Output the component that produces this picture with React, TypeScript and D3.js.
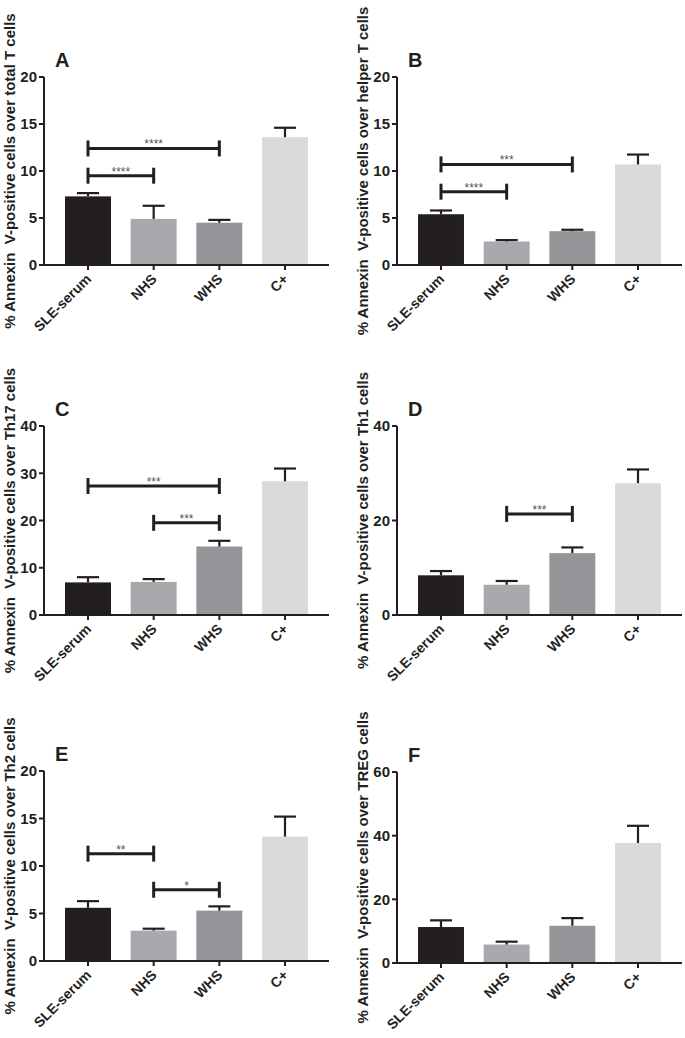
import React from 'react'
import * as d3 from 'd3'

// groups on x
const groups = ['SLE-serum', 'NHS', 'WHS', 'C+']
const barColors = ['#231f20', '#a7a9ac', '#939598', '#d9dadb']

// means and SEM per panel
const totalTMean = [7.3, 4.9, 4.5, 13.6]
const totalTSem = [0.35, 1.4, 0.3, 1.0]
const helperTMean = [5.4, 2.5, 3.6, 10.7]
const helperTSem = [0.4, 0.15, 0.15, 1.05]
const th17Mean = [6.9, 7.0, 14.5, 28.3]
const th17Sem = [1.1, 0.6, 1.2, 2.7]
const th1Mean = [8.4, 6.4, 13.1, 27.9]
const th1Sem = [0.9, 0.8, 1.2, 2.9]
const th2Mean = [5.6, 3.2, 5.3, 13.1]
const th2Sem = [0.7, 0.2, 0.45, 2.1]
const tregMean = [11.3, 5.8, 11.7, 37.7]
const tregSem = [2.1, 0.9, 2.4, 5.4]

// y ticks
const ticks20 = [0, 5, 10, 15, 20]
const ticks40 = [0, 10, 20, 30, 40]
const ticks40b = [0, 20, 40]
const ticks60 = [0, 20, 40, 60]

// significance brackets: [from, to, y value, stars]
type Sig = [number, number, number, string]
const sigA: Sig[] = [[0, 2, 12.4, '****'], [0, 1, 9.5, '****']]
const sigB: Sig[] = [[0, 2, 10.7, '***'], [0, 1, 7.8, '****']]
const sigC: Sig[] = [[0, 2, 27.3, '***'], [1, 2, 19.5, '***']]
const sigD: Sig[] = [[1, 2, 21.4, '***']]
const sigE: Sig[] = [[0, 1, 11.3, '**'], [1, 2, 7.5, '*']]
const sigF: Sig[] = []

const ink = '#231f20'
const font = 'Liberation Sans, Arial, sans-serif'

interface PanelProps {
  letter: string
  title: string
  mean: number[]
  sem: number[]
  ticks: number[]
  sig: Sig[]
  x0: number
  yTop: number
  yBottom: number
}

function Panel({ letter, title, mean, sem, ticks, sig, x0, yTop, yBottom }: PanelProps) {
  const width = 285
  const x = d3.scaleBand<string>()
    .domain(groups)
    .range([x0, x0 + width])
    .paddingInner(0.3)
    .paddingOuter(0.32)
  const y = d3.scaleLinear()
    .domain([0, ticks[ticks.length - 1]])
    .range([yBottom, yTop])
  const bw = x.bandwidth()
  const cx = (i: number) => (x(groups[i]) as number) + bw / 2

  return (
    <g>
      {/* panel letter */}
      <text x={x0 + 11} y={yTop - 10} fontFamily={font} fontWeight="bold" fontSize={20} fill={ink}>
        {letter}
      </text>
      {/* y title */}
      <text
        transform={`translate(${x0 - 29},${(yTop + yBottom) / 2}) rotate(-90)`}
        textAnchor="middle"
        fontFamily={font}
        fontWeight="bold"
        fontSize={15}
        fill={ink}
        style={{ whiteSpace: 'pre' }}
      >
        {title}
      </text>
      {/* bars */}
      {mean.map((m, i) => (
        <rect key={'b' + i} x={x(groups[i])} y={y(m)} width={bw} height={y(0) - y(m)} fill={barColors[i]} />
      ))}
      {/* error bars */}
      {mean.map((m, i) => (
        <g key={'e' + i} stroke={ink} strokeWidth={2.2}>
          <line x1={cx(i)} x2={cx(i)} y1={y(m)} y2={y(m + sem[i])} />
          <line x1={cx(i) - 11} x2={cx(i) + 11} y1={y(m + sem[i])} y2={y(m + sem[i])} />
        </g>
      ))}
      {/* axes */}
      <line x1={x0} x2={x0} y1={yTop} y2={yBottom} stroke={ink} strokeWidth={2} />
      <line x1={x0} x2={x0 + width} y1={yBottom} y2={yBottom} stroke={ink} strokeWidth={2} />
      {ticks.map(t => (
        <g key={'t' + t}>
          <line x1={x0 - 5} x2={x0} y1={y(t)} y2={y(t)} stroke={ink} strokeWidth={2} />
          <text x={x0 - 7} y={y(t)} dy="0.36em" textAnchor="end" fontFamily={font} fontWeight="bold" fontSize={15} fill={ink}>
            {t}
          </text>
        </g>
      ))}
      {groups.map((g, i) => (
        <g key={'x' + g}>
          <line x1={cx(i)} x2={cx(i)} y1={yBottom} y2={yBottom + 5} stroke={ink} strokeWidth={2} />
          <text
            transform={`translate(${cx(i) + 4},${yBottom + 15}) rotate(-45)`}
            textAnchor="end"
            fontFamily={font}
            fontWeight="bold"
            fontSize={14}
            fill={ink}
          >
            {g}
          </text>
        </g>
      ))}
      {/* significance */}
      {sig.map(([a, b, v, s], k) => (
        <g key={'s' + k}>
          <g stroke={ink} strokeWidth={3}>
            <line x1={cx(a)} x2={cx(b)} y1={y(v)} y2={y(v)} />
            <line x1={cx(a)} x2={cx(a)} y1={y(v) - 8} y2={y(v) + 8} />
            <line x1={cx(b)} x2={cx(b)} y1={y(v) - 8} y2={y(v) + 8} />
          </g>
          <text x={(cx(a) + cx(b)) / 2} y={y(v)} textAnchor="middle" fontFamily={font} fontSize={12} fill="#555">
            {s}
          </text>
        </g>
      ))}
    </g>
  )
}

export default function App() {
  return (
    <>
      <style>{'body{margin:0}'}</style>
      <svg width={685} height={1038} style={{ display: 'block', background: '#fff' }}>
        <Panel letter="A" title="% Annexin  V-positive cells over total T cells" mean={totalTMean} sem={totalTSem}
          ticks={ticks20} sig={sigA} x0={44} yTop={77} yBottom={265} />
        <Panel letter="B" title="% Annexin  V-positive cells over helper T cells" mean={helperTMean} sem={helperTSem}
          ticks={ticks20} sig={sigB} x0={397} yTop={77} yBottom={265} />
        <Panel letter="C" title="% Annexin  V-positive cells over Th17 cells" mean={th17Mean} sem={th17Sem}
          ticks={ticks40} sig={sigC} x0={44} yTop={426} yBottom={615} />
        <Panel letter="D" title="% Annexin  V-positive cells over Th1 cells" mean={th1Mean} sem={th1Sem}
          ticks={ticks40b} sig={sigD} x0={397} yTop={426} yBottom={615} />
        <Panel letter="E" title="% Annexin  V-positive cells over Th2 cells" mean={th2Mean} sem={th2Sem}
          ticks={ticks20} sig={sigE} x0={44} yTop={771} yBottom={961} />
        <Panel letter="F" title="% Annexin  V-positive cells over TREG cells" mean={tregMean} sem={tregSem}
          ticks={ticks60} sig={sigF} x0={397} yTop={772} yBottom={963} />
      </svg>
    </>
  )
}
